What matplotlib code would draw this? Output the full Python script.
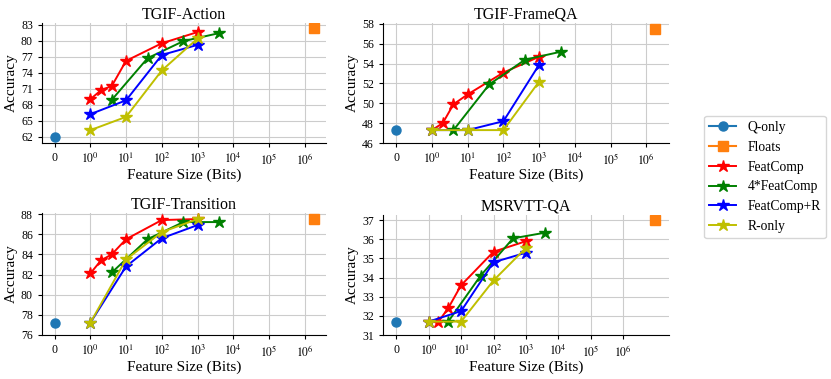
import numpy as np
import matplotlib
matplotlib.use("Agg")
import matplotlib.pyplot as plt

plt.rcParams['font.family'] = ['Liberation Serif', 'DejaVu Serif']
plt.rcParams['mathtext.fontset'] = 'stix'

# ---- data ----
titles = ['TGIF-Action', 'TGIF-FrameQA', 'TGIF-Transition', 'MSRVTT-QA']

qonly = [61.9, 47.3, 77.2, 31.7]
floats_x = [1.75e6, 1.8e6, 1.75e6, 9.5e6]
floats_y = [82.3, 57.5, 87.5, 37.0]

featcomp_x = [1, 2, 4, 10, 100, 1000]
featcomp = [
    [69.0, 70.7, 71.5, 76.2, 79.5, 81.6],
    [47.3, 48.0, 49.9, 50.9, 53.1, 54.7],
    [82.1, 83.4, 84.0, 85.5, 87.4, 87.5],
    [31.7, 31.7, 32.4, 33.6, 35.35, 35.9],
]

featcomp4_x = [4, 40, 400, 4000]
featcomp4 = [
    [68.9, 76.7, 79.9, 81.4],
    [47.3, 51.9, 54.4, 55.2],
    [82.2, 85.5, 87.2, 87.2],
    [31.7, 34.1, 36.05, 36.35],
]

featcompR_x = [1, 10, 100, 1000]
featcompR = [
    [66.2, 68.8, 77.3, 79.2],
    [47.3, 47.3, 48.2, 53.9],
    [77.2, 82.8, 85.6, 86.9],
    [31.7, 32.25, 34.8, 35.3],
]

ronly_x = [1, 10, 100, 1000]
ronly = [
    [63.2, 65.7, 74.4, 80.4],
    [47.3, 47.3, 47.3, 52.2],
    [77.2, 83.5, 86.2, 87.5],
    [31.7, 31.7, 33.85, 35.55],
]

yticks = [
    [62, 65, 68, 71, 74, 77, 80, 83],
    [46, 48, 50, 52, 54, 56, 58],
    [76, 78, 80, 82, 84, 86, 88],
    [31, 32, 33, 34, 35, 36, 37],
]
ylims = [(60.8, 83.3), (46, 58.1), (76, 88.1), (31, 37.27)]
xlims = [(-0.35, 3.9e6), (-0.37, 4.3e6), (-0.35, 3.9e6), (-0.41, 2.6e7)]

xticks = [0, 1, 10, 100, 1000, 1e4, 1e5, 1e6]
xticklabels = ['0'] + [r'$10^{%d}$' % i for i in range(7)]

# axes boxes in pixels: left, top, right, bottom
W, H = 831, 379
boxes = [
    (42, 23, 326, 143),
    (383, 23, 669, 143),
    (42, 213, 326, 335),
    (383, 215, 669, 335),
]

fig = plt.figure(figsize=(W / 100, H / 100), dpi=100)

for i, (l, t, r, b) in enumerate(boxes):
    ax = fig.add_axes([l / W, 1 - b / H, (r - l) / W, (b - t) / H])
    ax.set_xscale('symlog', linthresh=1, linscale=0.9)
    ax.plot([0], [qonly[i]], '-o', color='#1f77b4', ms=6.5, label='Q-only', zorder=3)
    ax.plot([floats_x[i]], [floats_y[i]], '-s', color='#ff7f0e', ms=6.5, label='Floats', zorder=3)
    ax.plot(featcomp_x, featcomp[i], '-*', color='r', ms=9, lw=1.4, label='FeatComp', zorder=3)
    ax.plot(featcomp4_x, featcomp4[i], '-*', color='g', ms=9, lw=1.4, label='4*FeatComp', zorder=3)
    ax.plot(featcompR_x, featcompR[i], '-*', color='b', ms=9, lw=1.4, label='FeatComp+R', zorder=3)
    ax.plot(ronly_x, ronly[i], '-*', color='y', ms=9, lw=1.4, label='R-only', zorder=3)

    ax.set_xlim(*xlims[i])
    ax.set_ylim(*ylims[i])
    ax.set_xticks(xticks)
    ax.set_xticklabels(xticklabels)
    ax.minorticks_off()
    ax.set_yticks(yticks[i])
    ax.tick_params(labelsize=8.5, length=3)
    ax.grid(True, color='#cccccc', lw=0.8)
    ax.set_axisbelow(True)
    for s in ['top', 'right']:
        ax.spines[s].set_visible(False)
    ax.set_title(titles[i], fontsize=11.5, pad=3)
    ax.set_xlabel('Feature Size (Bits)', fontsize=11, labelpad=1)
    ax.set_ylabel('Accuracy', fontsize=11, labelpad=2)
    if i == 0:
        handles, labels = ax.get_legend_handles_labels()

fig.legend(handles, labels, loc='center', bbox_to_anchor=(765 / W, 1 - 177 / H),
           fontsize=9.8, frameon=True, handlelength=2.0)

fig.savefig('out.png', dpi=100)
